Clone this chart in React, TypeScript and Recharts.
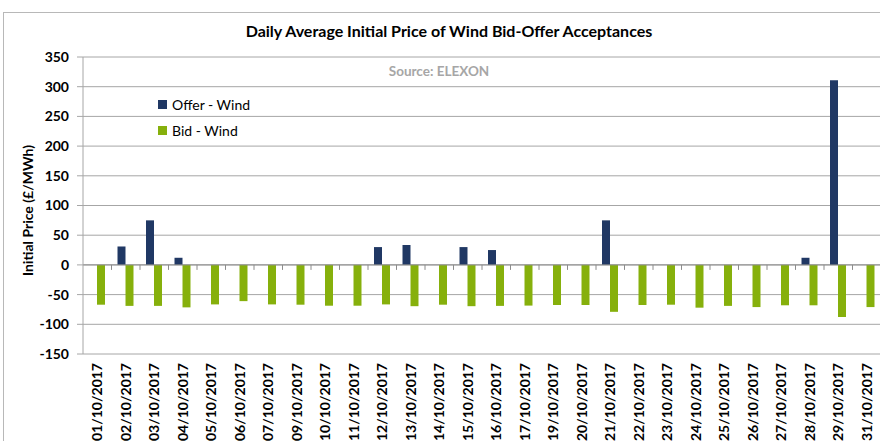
import { Bar, BarChart, CartesianGrid, Legend, ReferenceLine, XAxis, YAxis } from 'recharts';

const CATEGORIES = [
  '01/10/2017', '02/10/2017', '03/10/2017', '04/10/2017', '05/10/2017', '06/10/2017', '07/10/2017',
  '09/10/2017', '10/10/2017', '11/10/2017', '12/10/2017', '13/10/2017', '14/10/2017', '15/10/2017',
  '16/10/2017', '17/10/2017', '19/10/2017', '20/10/2017', '21/10/2017', '22/10/2017', '23/10/2017',
  '24/10/2017', '25/10/2017', '26/10/2017', '27/10/2017', '28/10/2017', '29/10/2017', '31/10/2017',
];

const OFFER_WIND = [
  null, 31, 75, 12, null, null, null, null, null, null, 30, 33.5, null, 30,
  25, null, null, null, 75, null, null, null, null, null, null, 12, 311, null,
];

const BID_WIND = [
  -67, -69, -69, -71.5, -66.5, -61, -66.5, -67, -68.7, -68.7, -66.5, -69.5, -67, -69.5,
  -69, -68.5, -67.5, -67.5, -79, -67.5, -67, -72, -69, -71, -68, -68, -87.7, -71,
];

const Y_TICKS = [-150, -100, -50, 0, 50, 100, 150, 200, 250, 300, 350];

const OFFER_COLOR = '#203864';
const BID_COLOR = '#86B00C';
const GRID = '#a6a6a6';
const FONT = 'Lato, "DejaVu Sans", sans-serif';

const data = CATEGORIES.map((date, i) => ({ date, offer: OFFER_WIND[i], bid: BID_WIND[i] }));

function DateTick({ x, y, payload }: any) {
  return (
    <text
      x={x}
      y={y + 1}
      transform={`rotate(-90 ${x} ${y + 1})`}
      textAnchor="end"
      dy="0.36em"
      fontFamily={FONT}
      fontWeight={700}
      fontSize={14}
      fill="#000"
    >
      {payload.value}
    </text>
  );
}

// zero axis line with the little category tick marks hanging below it
function ZeroAxis(props: any) {
  const { x1, y1, x2, y2 } = props;
  if (x1 == null) return null;
  const step = (x2 - x1) / CATEGORIES.length;
  return (
    <g>
      <line x1={x1} y1={y1} x2={x2} y2={y2} stroke="#8c8c8c" strokeWidth={1} />
      {CATEGORIES.map((c, i) => (
        <line key={c} x1={x1 + (i + 1) * step} x2={x1 + (i + 1) * step} y1={y1} y2={y1 + 5} stroke="#8c8c8c" />
      ))}
    </g>
  );
}

function LegendBox() {
  const items = [
    ['Offer - Wind', OFFER_COLOR],
    ['Bid - Wind', BID_COLOR],
  ];
  return (
    <div style={{ fontFamily: FONT, fontSize: 14, color: '#000' }}>
      {items.map(([label, color]) => (
        <div key={label} style={{ display: 'flex', alignItems: 'center', height: 26 }}>
          <span style={{ width: 9, height: 9, background: color, marginRight: 5 }} />
          <span>{label}</span>
        </div>
      ))}
    </div>
  );
}

export default function App() {
  return (
    <div style={{ position: 'fixed', left: 0, top: 0, width: 880, height: 441, overflow: 'hidden', background: '#fff' }}>
      <div style={{ position: 'absolute', left: 3, top: 12, width: 900, height: 460, border: '1px solid #b8b8b8' }} />
      <div
        style={{
          position: 'absolute', left: 0, top: 21, width: 898, textAlign: 'center',
          fontFamily: FONT, fontWeight: 700, fontSize: 16, color: '#000',
        }}
      >
        Daily Average Initial Price of Wind Bid-Offer Acceptances
      </div>
      <div
        style={{
          position: 'absolute', left: 0, top: 63, width: 878, textAlign: 'center',
          fontFamily: FONT, fontWeight: 700, fontSize: 13.5, color: '#a6a6a6', zIndex: 2,
        }}
      >
        Source: ELEXON
      </div>
      <div style={{ position: 'absolute', left: 0, top: 0 }}>
        <BarChart
          width={884}
          height={441}
          data={data}
          margin={{ top: 57, right: 3, bottom: 0, left: 23 }}
          barSize={8}
          barGap={0}
        >
          <CartesianGrid vertical={false} stroke={GRID} strokeWidth={1} />
          <XAxis
            dataKey="date"
            interval={0}
            height={87}
            axisLine={false}
            tickLine={false}
            tick={<DateTick />}
          />
          <YAxis
            width={60}
            domain={[-150, 350]}
            ticks={Y_TICKS}
            interval={0}
            axisLine={{ stroke: GRID }}
            tickLine={{ stroke: GRID }}
            tickSize={6}
            tickMargin={8}
            tick={{ fontFamily: FONT, fontWeight: 700, fontSize: 14, fill: '#000' }}
            label={{
              content: ({ viewBox }: any) => (
                <text
                  x={viewBox.x + 5}
                  y={viewBox.y + viewBox.height / 2 + 5}
                  transform={`rotate(-90 ${viewBox.x + 5} ${viewBox.y + viewBox.height / 2 + 5})`}
                  textAnchor="middle"
                  dy="0.36em"
                  fontFamily={FONT}
                  fontWeight={700}
                  fontSize={14}
                  fill="#000"
                >
                  Initial Price (£/MWh)
                </text>
              ),
            }}
          />
          <Legend
            layout="horizontal"
            align="center"
            verticalAlign="middle"
            wrapperStyle={{ left: 158, top: 91, width: 120, height: 52 }}
            content={<LegendBox />}
          />
          <Bar dataKey="offer" name="Offer - Wind" fill={OFFER_COLOR} isAnimationActive={false} />
          <Bar dataKey="bid" name="Bid - Wind" fill={BID_COLOR} isAnimationActive={false} />
          <ReferenceLine y={0} shape={<ZeroAxis />} />
        </BarChart>
      </div>
    </div>
  );
}
